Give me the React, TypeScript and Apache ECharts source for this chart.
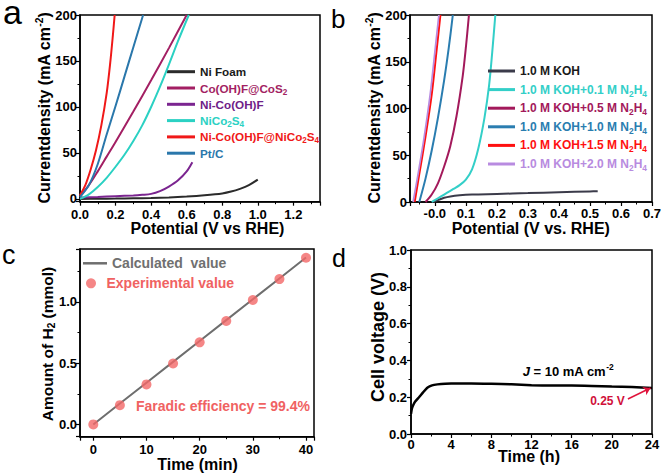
import React, { useEffect, useRef } from "react";
import * as echarts from "echarts";

const F = "'Liberation Sans', Arial, Helvetica, sans-serif";

// ---------- Panel a ----------
const aNames = ["Ni Foam", "Co(OH)F@CoS2", "Ni-Co(OH)F", "NiCo2S4", "Ni-Co(OH)F@NiCo2S4", "Pt/C"];
const aColors = ["#2b2b2b", "#a31f63", "#7b2590", "#2bd1c3", "#f01818", "#2a77ab"];
const aTextColors = ["#1a1a1a", "#a31f63", "#6e2088", "#2bd1c3", "#f01818", "#2a77ab"];
const aNiFoam = [[0, 0], [0.1, 0.2], [0.2, 0.4], [0.3, 0.7], [0.4, 1.0], [0.5, 1.6], [0.6, 2.6], [0.7, 4], [0.8, 6], [0.85, 8], [0.9, 11], [0.95, 15], [1.0, 21]];
const aCoOHFCoS2 = [[0, 3], [0.05, 15], [0.1, 30], [0.15, 46], [0.2, 62], [0.3, 95], [0.4, 129], [0.5, 164], [0.6, 200]];
const aNiCoOHF = [[0, 1.5], [0.1, 2.2], [0.2, 3], [0.3, 3.8], [0.35, 4.5], [0.4, 5.5], [0.45, 8.5], [0.5, 13.5], [0.55, 20], [0.6, 30], [0.632, 40]];
const aNiCo2S4 = [[0, 0], [0.05, 5], [0.1, 13], [0.15, 23], [0.2, 35], [0.25, 48], [0.3, 63], [0.35, 80], [0.4, 100], [0.45, 122], [0.5, 146], [0.55, 171], [0.612, 200]];
const aNiCoOHFNiCo2S4 = [[0, 4], [0.03, 15], [0.06, 32], [0.09, 53], [0.12, 80], [0.15, 115], [0.17, 148], [0.185, 178], [0.195, 200]];
const aPtC = [[0, 2], [0.05, 15], [0.1, 38], [0.15, 70], [0.2, 101], [0.25, 133], [0.3, 165], [0.355, 200]];
const aData = [aNiFoam, aCoOHFCoS2, aNiCoOHF, aNiCo2S4, aNiCoOHFNiCo2S4, aPtC];

// ---------- Panel b ----------
const bNames = ["1.0 M KOH", "1.0 M KOH+0.1 M N2H4", "1.0 M KOH+0.5 M N2H4", "1.0 M KOH+1.0 M N2H4", "1.0 M KOH+1.5 M N2H4", "1.0 M KOH+2.0 M N2H4"];
const bColors = ["#3b3b4a", "#33cfc8", "#a3195b", "#2a7db0", "#ff1010", "#b88be0"];
const bTextColors = ["#1a1a1a", "#33cfc8", "#a3195b", "#2a7db0", "#ff1010", "#b88be0"];
const bKOH = [[-0.005, 0], [0.01, 2], [0.03, 4.5], [0.05, 6], [0.08, 7.2], [0.12, 8], [0.2, 8.6], [0.3, 9.5], [0.4, 10.5], [0.5, 11.3], [0.525, 11.5]];
const b01 = [[-0.01, 0], [0.0, 2], [0.02, 6], [0.04, 10], [0.06, 14], [0.08, 18], [0.1, 24], [0.12, 35], [0.14, 57], [0.16, 90], [0.175, 125], [0.185, 160], [0.195, 200]];
const b05 = [[-0.03, 0], [-0.01, 8], [0.01, 20], [0.03, 38], [0.05, 60], [0.07, 92], [0.09, 135], [0.1, 165], [0.11, 200]];
const b10 = [[-0.05, 0], [-0.03, 25], [-0.01, 55], [0.01, 90], [0.03, 130], [0.045, 165], [0.058, 200]];
const b15 = [[-0.065, 0], [-0.05, 30], [-0.03, 70], [-0.01, 115], [0.005, 160], [0.018, 200]];
const b20 = [[-0.07, 0], [-0.055, 28], [-0.035, 68], [-0.015, 115], [0.0, 160], [0.013, 200]];
const bData = [bKOH, b01, b05, b10, b15, b20];

// ---------- Panel c ----------
const cTime = [0, 5, 10, 15, 20, 25, 30, 35, 40];
const cCalc = [0, 0.17, 0.34, 0.51, 0.68, 0.85, 1.02, 1.19, 1.36];
const cExp = [0, 0.157, 0.326, 0.497, 0.669, 0.843, 1.014, 1.185, 1.359];
const cNames = ["Calculated  value", "Experimental value"];

// ---------- Panel d ----------
const dTime = [0, 0.1, 0.25, 0.4, 0.8, 1.2, 1.6, 1.9, 2.3, 3, 4, 6, 8, 10, 12, 14, 16, 18, 20, 22, 24];
const dVolt = [0.11, 0.14, 0.16, 0.175, 0.2, 0.226, 0.25, 0.26, 0.267, 0.272, 0.274, 0.275, 0.273, 0.27, 0.265, 0.263, 0.263, 0.261, 0.258, 0.255, 0.25];
const dArrowFrom = [21.6, 0.19];
const dArrowTo = [23.85, 0.25];

function fmt(step: number, dec: number, negZero = false) {
  return (v: number) => {
    const k = v / step;
    if (Math.abs(k - Math.round(k)) > 1e-6) return "";
    if (negZero && Math.abs(v) < 1e-9) return "-0.0";
    return dec === 0 ? String(Math.round(v)) : v.toFixed(dec);
  };
}

function axis(gridIndex: number, extra: any, formatter: any, margin: number) {
  return {
    type: "value",
    gridIndex,
    ...extra,
    axisLine: { show: true, onZero: false, lineStyle: { color: "#000", width: 1.5 } },
    axisTick: { show: true, inside: false, length: 4, lineStyle: { color: "#000", width: 1.2 } },
    minorTick: { show: true, splitNumber: 2, length: 2.5, lineStyle: { color: "#000", width: 1 } },
    splitLine: { show: false },
    minorSplitLine: { show: false },
    axisLabel: {
      show: true,
      margin,
      color: "#000",
      fontSize: 13,
      fontWeight: "bold",
      fontFamily: F,
      formatter,
      showMinLabel: true,
      showMaxLabel: true,
    },
  };
}

const subFmt = (name: string) => name.replace(/([A-Za-z])(\d)/g, "$1{sub|$2}");

function legend(left: number, top: number, names: string[], colors: string[], w: number, h: number, gap: number, size: number, icon: string) {
  return {
    show: true,
    orient: "vertical",
    left,
    top,
    padding: 0,
    itemWidth: w,
    itemHeight: h,
    itemGap: gap,
    icon,
    selectedMode: false,
    formatter: subFmt,
    textStyle: {
      fontFamily: F,
      fontSize: size,
      fontWeight: "bold",
      lineHeight: 16,
      rich: {
        sub: { fontFamily: F, fontSize: size * 0.7, fontWeight: "bold", lineHeight: 16, verticalAlign: "bottom" },
      },
    },
    data: names.map((n, i) => ({ name: n, textStyle: { color: colors[i] } })),
  };
}

function txt(x: number, y: number, text: string, size: number, opts: any = {}) {
  return {
    type: "text",
    x,
    y,
    rotation: opts.rotation || 0,
    z: 100,
    style: {
      text,
      fill: opts.color || "#000",
      fontFamily: F,
      fontSize: size,
      fontWeight: opts.weight || "bold",
      align: opts.align || "center",
      verticalAlign: opts.valign || "middle",
      textAlign: opts.align || "center",
      textVerticalAlign: opts.valign || "middle",
      rich: opts.rich,
    },
  };
}

const supRich = (size: number) => ({
  sup: { fontFamily: F, fontSize: size * 0.65, fontWeight: "bold", verticalAlign: "top", lineHeight: size * 1.25 },
  sub: { fontFamily: F, fontSize: size * 0.65, fontWeight: "bold", verticalAlign: "bottom", lineHeight: size * 1.25 },
  n: { fontFamily: F, fontSize: size, fontWeight: "bold", lineHeight: size * 1.25 },
  i: { fontFamily: F, fontSize: size, fontWeight: "bold", fontStyle: "italic", lineHeight: size * 1.25 },
});

export default function App() {
  const ref = useRef<HTMLDivElement>(null);
  useEffect(() => {
    const chart = echarts.init(ref.current!, null, { renderer: "svg" });
    const gridBase = { show: true, borderColor: "#000", borderWidth: 1.5, backgroundColor: "transparent", containLabel: false, outerBoundsMode: "none" };
    const series: any[] = [];
    aNames.forEach((n, i) =>
      series.push({
        type: "line", name: n, xAxisIndex: 0, yAxisIndex: 0, data: aData[i], symbol: "none", smooth: 0.3,
        color: aColors[i], lineStyle: { color: aColors[i], width: 2 }, z: 2 + i,
      })
    );
    bNames.forEach((n, i) =>
      series.push({
        type: "line", name: n, xAxisIndex: 1, yAxisIndex: 1, data: bData[i], symbol: "none", smooth: 0.3,
        color: bColors[i], lineStyle: { color: bColors[i], width: i === 5 ? 1.7 : 2 }, z: 2 + i,
      })
    );
    series.push({
      type: "line", name: cNames[0], xAxisIndex: 2, yAxisIndex: 2, data: cTime.map((t, i) => [t, cCalc[i]]),
      symbol: "none", color: "#6e6e6e", lineStyle: { color: "#6e6e6e", width: 2 }, z: 2,
    });
    series.push({
      type: "scatter", name: cNames[1], xAxisIndex: 2, yAxisIndex: 2, data: cTime.map((t, i) => [t, cExp[i]]),
      symbol: "circle", symbolSize: 10, color: "#f26868", itemStyle: { color: "#f26868" }, z: 3,
    });
    series.push({
      type: "line", name: "Cell voltage", xAxisIndex: 3, yAxisIndex: 3, data: dTime.map((t, i) => [t, dVolt[i]]),
      symbol: "none", smooth: 0.2, color: "#000", lineStyle: { color: "#000", width: 2.5 }, z: 2,
      markLine: {
        silent: true, symbol: ["none", "arrow"], symbolSize: 7, animation: false,
        label: { show: false },
        lineStyle: { color: "#e0143c", width: 1.5, type: "solid" },
        data: [[{ coord: dArrowFrom }, { coord: dArrowTo }]],
      },
    });

    const option: any = {
      animation: false,
      backgroundColor: "#fff",
      textStyle: { fontFamily: F },
      grid: [
        { ...gridBase, left: 80, top: 15, width: 240, height: 186.7 },
        { ...gridBase, left: 410, top: 15, width: 242, height: 187 },
        { ...gridBase, left: 80, top: 249, width: 234, height: 187.7 },
        { ...gridBase, left: 411, top: 250, width: 241, height: 184 },
      ],
      xAxis: [
        axis(0, { min: 0, max: 1.35, interval: 0.2 }, fmt(0.2, 1), 6),
        axis(1, { min: -0.08, max: 0.7, splitNumber: 7 }, fmt(0.1, 1, true), 5),
        axis(2, { min: -2.5, max: 41.5, splitNumber: 4 }, fmt(10, 0), 6),
        axis(3, { min: 0, max: 24, interval: 4 }, fmt(4, 0), 4),
      ],
      yAxis: [
        axis(0, { min: -3, max: 200, splitNumber: 4 }, fmt(50, 0), 3),
        axis(1, { min: 0, max: 200, interval: 50 }, fmt(50, 0), 3),
        axis(2, { min: -0.1, max: 1.43, splitNumber: 3 }, fmt(0.5, 1), 3),
        axis(3, { min: 0, max: 1, interval: 0.2 }, fmt(0.2, 1), 4),
      ],
      legend: [
        legend(167, 63.7, aNames, aTextColors, 28, 3, 0.3, 11.7, "rect"),
        legend(488, 63, bNames, bTextColors, 27, 3, 2.6, 12, "rect"),
        legend(83, 255.3, [cNames[0]], ["#707070"], 24, 2.5, 4, 14, "rect"),
        legend(86, 275.3, [cNames[1]], ["#f06262"], 21, 10, 4, 14, "circle"),
      ],
      series,
      graphic: [
        txt(3, 29, "a", 34, { weight: "normal", align: "left", valign: "bottom" }),
        txt(331, 31.5, "b", 26, { weight: "normal", align: "left", valign: "bottom" }),
        txt(2, 268, "c", 27, { weight: "normal", align: "left", valign: "bottom" }),
        txt(332, 270.5, "d", 25, { weight: "normal", align: "left", valign: "bottom" }),
        txt(207.5, 228.5, "Potential (V vs RHE)", 16),
        txt(530.8, 228.5, "Potential (V vs. RHE)", 16),
        txt(197.5, 464.5, "Time (min)", 16),
        txt(529, 456, "Time (h)", 16),
        txt(44, 108, "{n|Currentdensity (mA cm}{sup|-2}{n|)}", 16, { rotation: Math.PI / 2, rich: supRich(16) }),
        txt(374, 108, "{n|Currentdensity (mA cm}{sup|-2}{n|)}", 16, { rotation: Math.PI / 2, rich: supRich(16) }),
        txt(47, 344, "{n|Amount of H}{sub|2}{n| (mmol)}", 15.5, { rotation: Math.PI / 2, rich: supRich(15.5) }),
        txt(377.5, 337, "Cell voltage (V)", 18, { rotation: Math.PI / 2 }),
        txt(136, 405.7, "Faradic efficiency = 99.4%", 14, { color: "#f06262", align: "left" }),
        txt(522.7, 371, "{i|J}{n| = 10 mA cm}{sup|-2}", 13, { align: "left", rich: supRich(13) }),
        txt(607.5, 401, "0.25 V", 12, { color: "#d0103a" }),
      ],
    };
    chart.setOption(option);
    return () => chart.dispose();
  }, []);
  return <div ref={ref} style={{ position: "fixed", left: 0, top: 0, width: 661, height: 475, background: "#fff" }} />;
}
